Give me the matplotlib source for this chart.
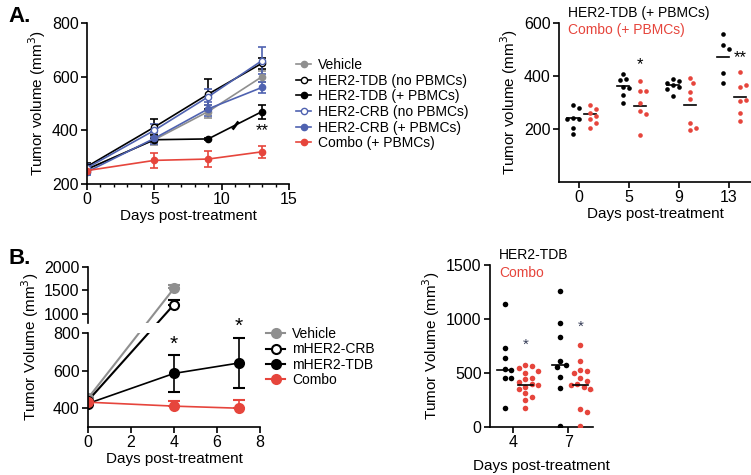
import matplotlib.pyplot as plt
import numpy as np
from matplotlib.markers import MarkerStyle
from matplotlib.transforms import Affine2D
from matplotlib.lines import Line2D

plt.rcParams['font.family'] = ['Liberation Sans', 'DejaVu Sans']

GRAY = '#8f8f8f'
BLUE = '#4f62b0'
RED = '#e6453c'
TICK_FS = 11.5
LAB_FS = 11

# Panel A left: mean tumor volume over time
days_a = [0, 5, 9, 13]
veh_a = [255, 365, 470, 600]
veh_a_err = [15, 20, 25, 20]
tdb_no = [265, 412, 535, 650]
tdb_no_err = [15, 30, 55, 20]
tdb_pb = [255, 365, 368, 470]
tdb_pb_err = [12, 8, 5, 26]
crb_no = [260, 400, 525, 660]
crb_no_err = [15, 25, 30, 50]
crb_pb = [245, 370, 480, 560]
crb_pb_err = [10, 22, 25, 20]
combo_a = [250, 288, 293, 320]
combo_a_err = [10, 27, 30, 22]

# Panel A right: individual tumors
days_ar = ['0', '5', '9', '13']
tdb_pts = [
    [290, 278, 240, 238, 236, 205, 183],
    [408, 389, 385, 358, 355, 328, 298],
    [389, 381, 374, 366, 358, 351, 325],
    [558, 517, 502, 411, 374],
]
combo_pts = [
    [290, 275, 260, 250, 238, 223, 204],
    [381, 343, 343, 298, 268, 257, 177],
    [392, 374, 340, 313, 223, 196, 204],
    [415, 358, 366, 306, 309, 260, 230],
]
tdb_line = [240, 362, 365, 472]
combo_line = [255, 287, 290, 321]

# Panel B left
days_b = [0, 4, 7]
veh_b = [453, 1543]
veh_b_err = [15, 75]
crb_b = [440, 1196]
crb_b_err = [15, 100]
tdb_b = [425, 585, 640]
tdb_b_err = [10, 100, 135]
combo_b = [432, 411, 400]
combo_b_err = [8, 26, 43]

# Panel B right
days_br = ['4', '7']
tdb_b_pts = [
    [1140, 730, 640, 540, 530, 450, 450, 180],
    [1260, 965, 835, 610, 575, 555, 460, 360, 10],
]
combo_b_pts = [
    [575, 565, 548, 520, 500, 455, 440, 420, 395, 385, 375, 350, 315, 280, 250, 180],
    [755, 610, 530, 520, 500, 455, 430, 400, 390, 375, 355, 345, 170, 140, 10],
]
tdb_b_line = [530, 575]
combo_b_line = [389, 390]

W, H = 751, 475
fig = plt.figure(figsize=(W / 100, H / 100), dpi=100)


def box(x0, y_top, x1, y_bot):
    return [x0 / W, 1 - y_bot / H, (x1 - x0) / W, (y_bot - y_top) / H]


def style(ax):
    for s in ['top', 'right']:
        ax.spines[s].set_visible(False)
    for s in ['left', 'bottom']:
        ax.spines[s].set_linewidth(1.2)
    ax.tick_params(width=1.2, length=4, labelsize=TICK_FS, pad=2)


def swarm(ax, x0, vals, r_px):
    pts = ax.transData.transform([(x0, v) for v in vals])
    placed = []
    for px, py in pts:
        for k in [0, 1, -1, 2, -2, 3, -3, 4, -4, 5, -5]:
            cx = px + k * r_px
            if all((cx - qx) ** 2 + (py - qy) ** 2 >= (1.9 * r_px) ** 2 for qx, qy in placed):
                break
        placed.append((cx, py))
    return ax.transData.inverted().transform(placed)[:, 0]


# ---- A left
ax1 = fig.add_axes(box(87, 23, 289, 184))
style(ax1)
series = [
    (veh_a, veh_a_err, GRAY, GRAY, 'Vehicle'),
    (tdb_no, tdb_no_err, 'black', 'white', 'HER2-TDB (no PBMCs)'),
    (tdb_pb, tdb_pb_err, 'black', 'black', 'HER2-TDB (+ PBMCs)'),
    (crb_no, crb_no_err, BLUE, 'white', 'HER2-CRB (no PBMCs)'),
    (crb_pb, crb_pb_err, BLUE, BLUE, 'HER2-CRB (+ PBMCs)'),
    (combo_a, combo_a_err, RED, RED, 'Combo (+ PBMCs)'),
]
handles = []
for vals, err, c, fc, lab in series:
    ax1.errorbar(days_a, vals, yerr=err, color=c, mfc=fc, mec=c, marker='o', ms=4.5,
                 lw=1.2, capsize=3, elinewidth=1.2, capthick=1.2)
    handles.append(Line2D([], [], color=c, mfc=fc, mec=c, marker='o', ms=4.5, lw=1.2))
mid = (days_a[2] + days_a[3]) / 2
ax1.plot(mid, (tdb_pb[2] + tdb_pb[3]) / 2, color='black', ls='none', ms=7, mew=2,
         marker=MarkerStyle('|', transform=Affine2D().rotate_deg(-35)))
ax1.text(days_a[3], 370, '**', ha='center', va='bottom', fontsize=12)
ax1.set_xlim(0, 15)
ax1.set_ylim(200, 800)
ax1.set_xticks([0, 5, 10, 15])
ax1.set_xticks(range(0, 16), minor=True)
ax1.tick_params(which='minor', length=2.5, width=1.0)
ax1.set_yticks([200, 400, 600, 800])
ax1.set_xlabel('Days post-treatment', fontsize=LAB_FS, labelpad=1)
ax1.set_ylabel('Tumor volume (mm$^3$)', fontsize=LAB_FS, labelpad=3)
fig.legend(handles, [s[4] for s in series], loc='upper left', bbox_to_anchor=(296 / W, 1 - 58 / H),
           frameon=False, fontsize=10, handlelength=1.1, handletextpad=0.45, labelspacing=0.12,
           borderpad=0, borderaxespad=0)

# ---- A right
ax2 = fig.add_axes(box(559, 23, 751, 182))
style(ax2)
ax2.set_xlim(-0.4, 3.44)
ax2.set_ylim(0, 600)
ax2.set_yticks([200, 400, 600])
ax2.set_xticks(range(len(days_ar)))
ax2.set_xticklabels(days_ar)
for i in range(len(days_ar)):
    xb = swarm(ax2, i - 0.12, tdb_pts[i], 2.8)
    ax2.scatter(xb, tdb_pts[i], s=11, color='black', lw=0, zorder=3)
    xr = swarm(ax2, i + 0.22, combo_pts[i], 2.8)
    ax2.scatter(xr, combo_pts[i], s=11, color=RED, lw=0, zorder=3)
    ax2.plot([i - 0.24, i], [tdb_line[i]] * 2, color='black', lw=1.2)
    ax2.plot([i + 0.1, i + 0.34], [combo_line[i]] * 2, color='black', lw=1.2)
ax2.text(1 + 0.22, 415, '*', ha='center', va='bottom', fontsize=12)
ax2.text(3 + 0.22, 440, '**', ha='center', va='bottom', fontsize=12)
ax2.set_xlabel('Days post-treatment', fontsize=LAB_FS, labelpad=1)
ax2.set_ylabel('Tumor volume (mm$^3$)', fontsize=LAB_FS, labelpad=3)
fig.text(568 / W, 1 - 13 / H, 'HER2-TDB (+ PBMCs)', fontsize=10, color='black', va='center')
fig.text(568 / W, 1 - 30 / H, 'Combo (+ PBMCs)', fontsize=10, color=RED, va='center')

# ---- B left (broken y axis)
ax3 = fig.add_axes(box(88, 333, 260, 427))
ax3u = fig.add_axes(box(88, 267, 260, 323), sharex=ax3)
style(ax3)
style(ax3u)
ax3u.patch.set_visible(False)
ax3u.spines['bottom'].set_visible(False)
ax3u.tick_params(axis='x', bottom=False, labelbottom=False)
ax3.set_ylim(300, 800)
ax3.set_yticks([400, 600, 800])
ax3u.set_ylim(800, 2000)
ax3u.set_yticks([1000, 1500, 2000])
ax3.set_xlim(0, 8)
ax3.set_xticks([0, 2, 4, 6, 8])

mk = dict(marker='o', ms=6.5, mew=1.5, lw=1.2, capsize=4, elinewidth=1.2, capthick=1.2)
b_handles = []
# series whose last point sits above the break: straight line in display space
for vals, err, c, fc in [(veh_b, veh_b_err, GRAY, GRAY), (crb_b, crb_b_err, 'black', 'white')]:
    p0 = ax3.transData.transform((days_b[0], vals[0]))
    p1 = ax3u.transData.transform((days_b[1], vals[1]))
    v1_low = ax3.transData.inverted().transform(p1)[1]
    v0_up = ax3u.transData.inverted().transform(p0)[1]
    ax3.plot(days_b[:2], [vals[0], v1_low], color=c, lw=1.5)
    ax3u.plot(days_b[:2], [v0_up, vals[1]], color=c, lw=1.5)
    ax3.errorbar(days_b[0], vals[0], yerr=err[0], color=c, mfc=fc, mec=c, **mk)
    ax3u.errorbar(days_b[1], vals[1], yerr=[[0], [err[1]]], color=c, mfc=fc, mec=c, **mk)
ax3.errorbar(days_b, tdb_b, yerr=tdb_b_err, color='black', mfc='black', mec='black', **mk)
ax3.errorbar(days_b, combo_b, yerr=[[0] * 3, combo_b_err], color=RED, mfc=RED, mec=RED, **mk)
for c, fc in [(GRAY, GRAY), ('black', 'white'), ('black', 'black'), (RED, RED)]:
    b_handles.append(Line2D([], [], color=c, mfc=fc, mec=c, marker='o', ms=6.5, mew=1.5, lw=1.5))
ax3.text(days_b[1], 690, '*', ha='center', va='bottom', fontsize=15)
ax3.text(days_b[2], 786, '*', ha='center', va='bottom', fontsize=15)
ax3.set_xlabel('Days post-treatment', fontsize=LAB_FS, labelpad=1)
fig.text(30 / W, 1 - 347 / H, 'Tumor Volume (mm$^3$)', rotation=90, fontsize=LAB_FS,
         ha='center', va='center')
fig.legend(b_handles, ['Vehicle', 'mHER2-CRB', 'mHER2-TDB', 'Combo'], loc='upper left',
           bbox_to_anchor=(266 / W, 1 - 327 / H), frameon=False, fontsize=10, handlelength=1.4,
           handletextpad=0.5, labelspacing=0.1, borderpad=0, borderaxespad=0)

# ---- B right
ax4 = fig.add_axes(box(490, 265, 593, 427))
style(ax4)
ax4.set_xlim(-0.42, 1.45)
ax4.set_ylim(0, 1500)
ax4.set_yticks([0, 500, 1000, 1500])
ax4.set_xticks(range(len(days_br)))
ax4.set_xticklabels(days_br)
for i in range(len(days_br)):
    xb = swarm(ax4, i - 0.15, tdb_b_pts[i], 3.2)
    ax4.scatter(xb, tdb_b_pts[i], s=16, color='black', lw=0, zorder=3)
    xr = swarm(ax4, i + 0.22, combo_b_pts[i], 3.2)
    ax4.scatter(xr, combo_b_pts[i], s=16, color=RED, lw=0, zorder=3)
    ax4.plot([i - 0.3, i], [tdb_b_line[i]] * 2, color='black', lw=1.2, zorder=4)
    ax4.plot([i + 0.08, i + 0.36], [combo_b_line[i]] * 2, color='black', lw=1.2, zorder=4)
ax4.text(0.22, 700, '*', ha='center', va='bottom', fontsize=11, color='#333a55')
ax4.text(1.22, 865, '*', ha='center', va='bottom', fontsize=11, color='#333a55')
ax4.set_xlabel('Days post-treatment', fontsize=LAB_FS, labelpad=6)
ax4.set_ylabel('Tumor Volume (mm$^3$)', fontsize=LAB_FS, labelpad=3)
fig.text(499 / W, 1 - 255 / H, 'HER2-TDB', fontsize=10, color='black', va='center')
fig.text(499 / W, 1 - 273 / H, 'Combo', fontsize=10, color=RED, va='center')

fig.text(8 / W, 1 - 16 / H, 'A.', fontsize=16, fontweight='bold', va='center')
fig.text(8 / W, 1 - 258 / H, 'B.', fontsize=16, fontweight='bold', va='center')

fig.savefig('out.png', dpi=100)
